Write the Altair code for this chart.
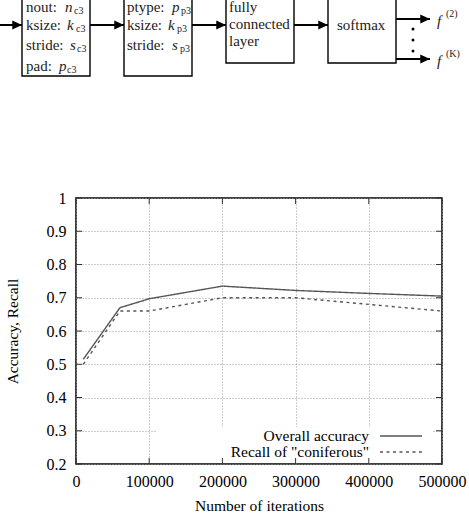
import altair as alt
import pandas as pd

# ---------------- data ----------------
iterations = [10000, 60000, 100000, 200000, 300000, 400000, 500000]
overall_accuracy = [0.515, 0.670, 0.697, 0.735, 0.722, 0.713, 0.705]
recall_coniferous = [0.500, 0.660, 0.660, 0.700, 0.700, 0.680, 0.660]
series_names = ["Overall accuracy", 'Recall of "coniferous"']
x_ticks = [0, 100000, 200000, 300000, 400000, 500000]
y_ticks = [0.2, 0.3, 0.4, 0.5, 0.6, 0.7, 0.8, 0.9, 1.0]

# network diagram (text content)
diagram_words = ["nout:", "ksize:", "stride:", "pad:", "ptype:", "ksize:", "stride:",
                 "fully", "connected", "layer", "softmax"]
diagram_vars = ["n", "k", "s", "p", "p", "k", "s", "f", "f"]
diagram_subs = ["c3", "c3", "c3", "c3", "p3", "p3", "p3"]
diagram_sups = ["(2)", "(K)"]

FONT = "Liberation Serif"
OX, OY = 76, 198          # plot origin in page pixels
W, H = 366, 266           # plot size

def rel(xs, ys):
    return [x - OX for x in xs], [y - OY for y in ys]

# layout of the diagram (page pixels)
word_x = [26, 26, 26, 26, 127, 127, 127, 229, 229, 229, 337]
word_y = [7, 25, 45, 66, 7, 25, 45, 7, 24, 41, 25]
var_x = [65, 67, 70, 59, 172, 168, 172, 437, 437]
var_y = [7, 25, 45, 66, 7, 25, 45, 21, 61]
sub_x = [74, 76, 77, 67, 181, 177, 180]
sub_y = [11, 29, 49, 70, 11, 29, 49]
sup_x = [446, 446]
sup_y = [14, 54]

box_x = [22, 124, 226, 328]
box_x2 = [90, 192, 294, 396]
box_y = [-10, -10, -10, -10]
box_y2 = [76, 76, 63, 63]

arrow_x = [0, 90, 192, 294, 396, 396]
arrow_x2 = [22, 124, 226, 328, 430, 430]
arrow_y = [25, 25, 25, 25, 19, 59]

dot_x = [413, 413, 413]
dot_y = [29, 40, 51]

# ---------------- tables ----------------
rows = []
for name, vals in zip(series_names, [overall_accuracy, recall_coniferous]):
    for it, v in zip(iterations, vals):
        rows.append({"iter": it, "value": v, "series": name})
df = pd.DataFrame(rows)

wx, wy = rel(word_x, word_y)
words_df = pd.DataFrame({"t": diagram_words, "x": wx, "y": wy})
vx, vy = rel(var_x, var_y)
vars_df = pd.DataFrame({"t": diagram_vars, "x": vx, "y": vy})
sx, sy = rel(sub_x, sub_y)
subs_df = pd.DataFrame({"t": diagram_subs, "x": sx, "y": sy})
px_, py_ = rel(sup_x, sup_y)
sups_df = pd.DataFrame({"t": diagram_sups, "x": px_, "y": py_})

bx, by = rel(box_x, box_y)
bx2, by2 = rel(box_x2, box_y2)
boxes_df = pd.DataFrame({"x": bx, "x2": bx2, "y": by, "y2": by2})
ax, ay = rel(arrow_x, arrow_y)
ax2, _ = rel(arrow_x2, arrow_y)
arrows_df = pd.DataFrame({"x": ax, "x2": ax2, "y": ay})
dx, dy = rel(dot_x, dot_y)
dots_df = pd.DataFrame({"x": dx, "y": dy})

legend_df = pd.DataFrame({
    "series": series_names,
    "tx": [369 - OX, 369 - OX],
    "lx": [380 - OX, 380 - OX],
    "lx2": [422 - OX, 422 - OX],
    "y": [436 - OY, 452 - OY],
})
cover_df = pd.DataFrame({"x": [157 - OX], "x2": [432 - OX], "y": [427 - OY], "y2": [463 - OY]})

dash_scale = alt.Scale(domain=series_names, range=[[1, 0], [3, 3.5]])

def PX(f):
    return alt.X(f, type="quantitative", scale=None)

def PY(f):
    return alt.Y(f, type="quantitative", scale=None)

xscale = alt.Scale(domain=[0, 500000], nice=False, zero=False)
yscale = alt.Scale(domain=[0.2, 1.0], nice=False, zero=False)
xaxis = alt.Axis(
    values=x_ticks, format="d", labelPadding=9, labelFlush=False,
    title="Number of iterations", titleX=W / 2, titleY=41,
    titleAlign="center", titleBaseline="middle")
yaxis = alt.Axis(
    values=y_ticks, format="~g", labelPadding=10,
    title="Accuracy, Recall", titleX=-64, titleY=H / 2, titleAngle=270,
    titleAlign="center", titleBaseline="middle")

# ---------------- chart layers ----------------
cover = alt.Chart(cover_df).mark_rect(fill="white").encode(
    x=PX("x"), x2="x2", y=PY("y"), y2="y2")

lines = alt.Chart(df).mark_line(strokeWidth=1.4, color="#555555").encode(
    x=alt.X("iter:Q", scale=xscale, axis=xaxis),
    y=alt.Y("value:Q", scale=yscale, axis=yaxis),
    strokeDash=alt.StrokeDash("series:N", scale=dash_scale, legend=None),
)

ytick_df = pd.DataFrame({"value": y_ticks})
xtick_df = pd.DataFrame({"iter": x_ticks})
tick_color = "#333333"
lt = alt.Chart(ytick_df).mark_rule(color=tick_color, strokeWidth=1).encode(
    y=alt.Y("value:Q", scale=yscale, axis=yaxis), x=alt.value(0), x2=alt.value(6))
rt = alt.Chart(ytick_df).mark_rule(color=tick_color, strokeWidth=1).encode(
    y=alt.Y("value:Q", scale=yscale, axis=yaxis), x=alt.value(W - 6), x2=alt.value(W))
bt = alt.Chart(xtick_df).mark_rule(color=tick_color, strokeWidth=1).encode(
    x=alt.X("iter:Q", scale=xscale, axis=xaxis), y=alt.value(H - 6), y2=alt.value(H))
tt = alt.Chart(xtick_df).mark_rule(color=tick_color, strokeWidth=1).encode(
    x=alt.X("iter:Q", scale=xscale, axis=xaxis), y=alt.value(0), y2=alt.value(6))

leg_text = alt.Chart(legend_df).mark_text(
    align="right", baseline="middle", font=FONT, fontSize=15.5, color="black").encode(
    x=PX("tx"), y=PY("y"), text="series:N")
leg_line = alt.Chart(legend_df).mark_rule(strokeWidth=1.4, color="#555555").encode(
    x=PX("lx"), x2="lx2", y=PY("y"),
    strokeDash=alt.StrokeDash("series:N", scale=dash_scale, legend=None))

# diagram
boxes = alt.Chart(boxes_df).mark_rect(fill="white", stroke="black", strokeWidth=1.4).encode(
    x=PX("x"), x2="x2", y=PY("y"), y2="y2")
arrows = alt.Chart(arrows_df).mark_rule(color="black", strokeWidth=2).encode(
    x=PX("x"), x2="x2", y=PY("y"))
heads = alt.Chart(arrows_df).mark_point(
    shape="M 0 0 L -1 -0.45 L -1 0.45 Z", size=380, filled=True, color="black", opacity=1).encode(
    x=PX("x2"), y=PY("y"))
dots = alt.Chart(dots_df).mark_circle(size=9, color="black", opacity=1).encode(
    x=PX("x"), y=PY("y"))
words = alt.Chart(words_df).mark_text(
    align="left", baseline="middle", font=FONT, fontSize=15, color="#222222").encode(
    x=PX("x"), y=PY("y"), text="t:N")
vars_ = alt.Chart(vars_df).mark_text(
    align="left", baseline="middle", font=FONT, fontSize=15, fontStyle="italic", color="#222222").encode(
    x=PX("x"), y=PY("y"), text="t:N")
subs = alt.Chart(subs_df).mark_text(
    align="left", baseline="middle", font=FONT, fontSize=10, color="#222222").encode(
    x=PX("x"), y=PY("y"), text="t:N")
sups = alt.Chart(sups_df).mark_text(
    align="left", baseline="middle", font=FONT, fontSize=10, color="#222222").encode(
    x=PX("x"), y=PY("y"), text="t:N")

chart = alt.layer(
    lines, cover, lt, rt, bt, tt, leg_line, leg_text,
    boxes, arrows, heads, dots, words, vars_, subs, sups,
).properties(
    width=W, height=H,
    autosize=alt.AutoSizeParams(type="none"),
    padding={"left": OX, "top": OY, "right": 469 - OX - W, "bottom": 515 - OY - H},
    background="white",
).configure_view(
    stroke="black", strokeWidth=1.5
).configure_axis(
    grid=True, gridColor="#9a9a9a", gridDash=[1, 2], gridWidth=1,
    ticks=False, domain=False,
    labelFont=FONT, labelFontSize=16, labelColor="black",
    titleFont=FONT, titleFontSize=15.5, titleFontWeight="normal", titleColor="black",
)

chart.save("out.html", embed_options={"renderer": "svg", "actions": False})
